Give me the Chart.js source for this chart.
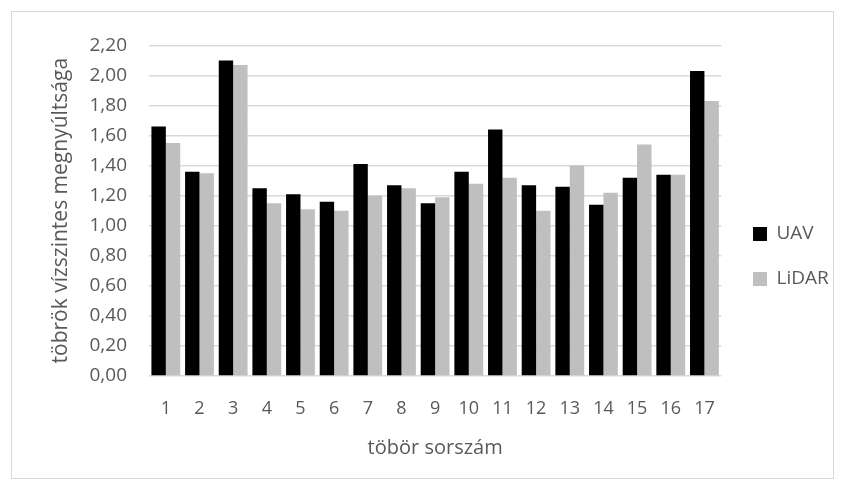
<!DOCTYPE html>
<html>
<head>
<meta charset="utf-8">
<script src="https://cdn.jsdelivr.net/npm/chart.js@4.4.0/dist/chart.umd.min.js"></script>
<style>
  html, body { margin: 0; padding: 0; background: #fff; }
  #keret { position: absolute; left: 11px; top: 11px; width: 821px; height: 466px; border: 1px solid #d9d9d9; }
  canvas { display: block; }
</style>
</head>
<body>
<div id="keret"><canvas id="tobrok" width="821" height="466"></canvas></div>
<script>
// ==================== ADATOK ====================

const sorszam = ['1', '2', '3', '4', '5', '6', '7', '8', '9', '10', '11', '12', '13', '14', '15', '16', '17'];
const uav   = [1.66, 1.36, 2.10, 1.25, 1.21, 1.16, 1.41, 1.27, 1.15, 1.36, 1.64, 1.27, 1.26, 1.14, 1.32, 1.34, 2.03];
const lidar = [1.55, 1.35, 2.07, 1.15, 1.11, 1.10, 1.20, 1.25, 1.19, 1.28, 1.32, 1.10, 1.40, 1.22, 1.54, 1.34, 1.83];

const yMin = 0;
const yMax = 2.2;
const yLepes = 0.2;

// ==================== STILUS ====================

const betu = "'Open Sans', 'DejaVu Sans', sans-serif";
const szurke = '#595959';
const racs = '#d9d9d9';

// Jelmagyarazat eltolasa (Excelben a legend a plot jobb oldalan, kozepen ul)
const legendHelyzet = {
  id: 'legendHelyzet',
  afterLayout(chart) {
    const lg = chart.legend;
    const pad = lg.options.labels.padding;
    const dx = 741 - (lg.left + pad);
    const dy = 6;
    lg.left += dx; lg.right += dx;
    lg.top += dy; lg.bottom += dy;
  }
};

// ==================== GRAFIKON ====================

const ctx = document.getElementById('tobrok').getContext('2d');

new Chart(ctx, {
  type: 'bar',
  data: {
    labels: sorszam,
    datasets: [
      {
        label: 'UAV',
        data: uav,
        backgroundColor: '#000000',
        borderWidth: 0
      },
      {
        label: 'LiDAR',
        data: lidar,
        backgroundColor: '#bfbfbf',
        borderWidth: 0
      }
    ]
  },
  options: {
    responsive: false,
    animation: false,
    layout: {
      padding: { top: 29, left: 30, right: 0, bottom: 18 }
    },
    datasets: {
      bar: { categoryPercentage: 0.856, barPercentage: 1.0 }
    },
    plugins: {
      legend: {
        display: true,
        position: 'right',
        labels: {
          boxWidth: 14,
          boxHeight: 14,
          padding: 26,
          color: szurke,
          font: { family: betu, size: 19 }
        }
      },
      tooltip: { enabled: false }
    },
    scales: {
      x: {
        grid: { display: false, drawTicks: false },
        border: { display: false },
        ticks: {
          color: szurke,
          padding: 22,
          font: { family: betu, size: 18 }
        },
        title: {
          display: true,
          text: 'töbör sorszám',
          color: szurke,
          padding: { top: 0, bottom: 0 },
          font: { family: betu, size: 20 }
        },
        afterFit(scale) { scale.height = 84; }
      },
      y: {
        min: yMin,
        max: yMax,
        grid: { color: racs, lineWidth: 1.5, drawTicks: false },
        border: { display: false },
        ticks: {
          stepSize: yLepes,
          color: szurke,
          padding: 22,
          font: { family: betu, size: 19 },
          callback: function(value) {
            return value.toFixed(2).replace('.', ',');
          }
        },
        title: {
          display: true,
          text: 'töbrök vízszintes megnyúltsága',
          color: szurke,
          padding: { top: 6, bottom: 0 },
          font: { family: betu, size: 21 }
        },
        afterFit(scale) { scale.width = 107; }
      }
    }
  },
  plugins: [legendHelyzet]
});
</script>
</body>
</html>
